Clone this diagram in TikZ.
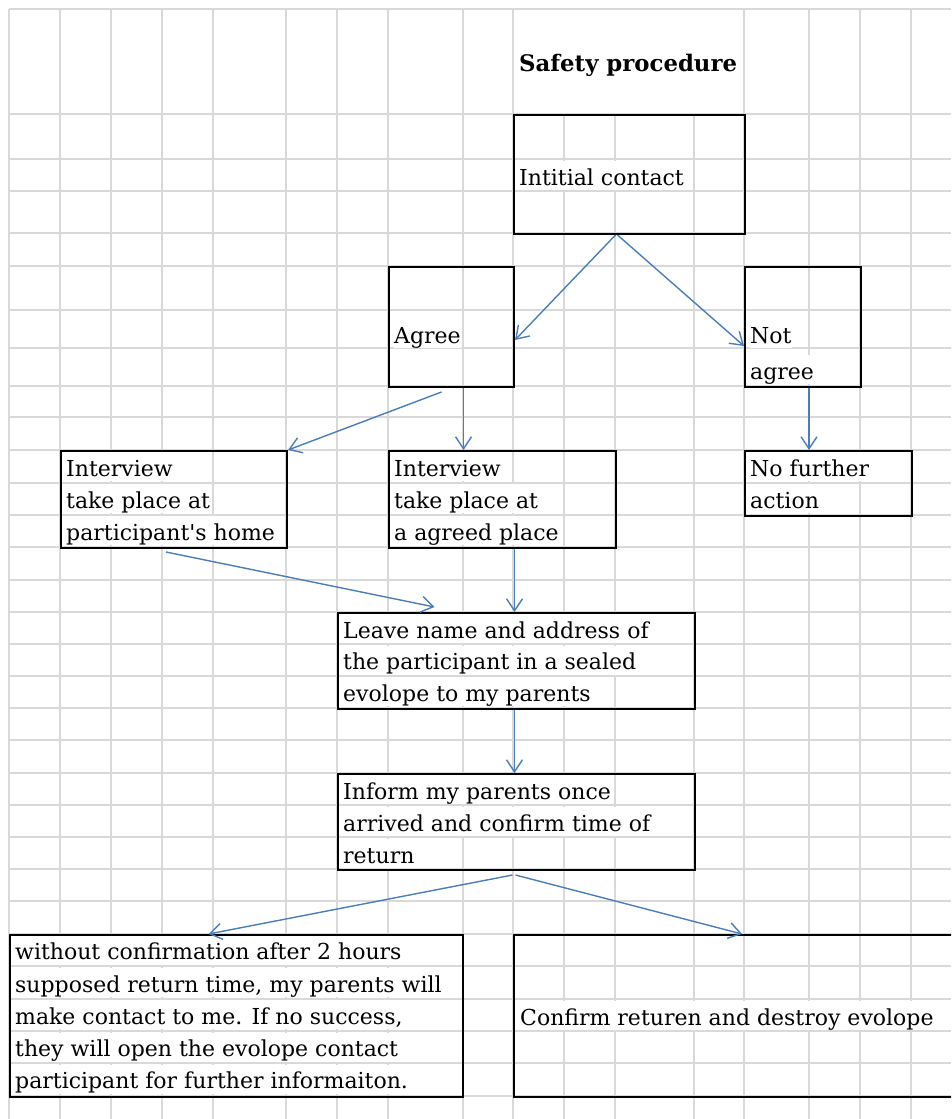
\documentclass[tikz,border=0pt]{standalone}
\usepackage{fontspec}
\setmainfont{DejaVu Serif}
\usetikzlibrary{arrows.meta}
\definecolor{gridgray}{RGB}{217,217,217}
\definecolor{linkblue}{RGB}{74,126,187}

\begin{document}
\begin{tikzpicture}[
  x=1pt, y=-1pt,
  font=\fontsize{22pt}{32pt}\selectfont,
  gridline/.style={draw=gridgray, line width=1.3pt},
  box/.style={rectangle, draw, line width=2pt, anchor=north west, inner sep=0pt},
  txt/.style={anchor=base west, inner sep=0pt, fill=white, text height=24pt, text depth=5pt},
  heading/.style={anchor=base west, inner sep=0pt, fill=white, font=\fontsize{22.8pt}{32pt}\selectfont\bfseries, text height=61pt, text depth=42pt},
  link/.style={draw=linkblue, line width=1.4pt, -{Straight Barb[length=12pt,width=16pt]}}
]
\useasboundingbox (0,0) rectangle (951,1119);
\clip (0,0) rectangle (951,1119);
\fill[white] (0,0) rectangle (951,1119);

% Sheet grid
\foreach \gx in {9,60,111,162,213,286,337,388,463,513,564,615,694,744,809,860,911}
  \draw[gridline] (\gx,9) -- (\gx,1119);
\foreach \gy in {9,114,159,191,233,266,310,348,386,417,450,483,515,547,580,612,644,676,708,740,773,805,837,869,901,934,966,999,1031,1063,1096}
  \draw[gridline] (9,\gy) -- (951,\gy);

% Title
\node[heading] (title) at (519,71) {Safety procedure};

% Cell texts
\node[txt] (contact-t) at (519,185) {Intitial contact};
\node[txt] (agree-t) at (394,343) {Agree};
\node[txt] (notagree-t1) at (750,343) {Not};
\node[txt] (notagree-t2) at (750,379) {agree};
\foreach \line [count=\i] in {Interview, take place at, participant\textquotesingle s home}
  \node[txt] (home-t\i) at (66,444+32*\i) {\line};
\foreach \line [count=\i] in {Interview, take place at, a agreed place}
  \node[txt] (place-t\i) at (394,444+32*\i) {\line};
\node[txt] (nofurther-t1) at (750,476) {No further};
\node[txt] (nofurther-t2) at (750,508) {action};
\foreach \line [count=\i] in {Leave name and address of, the participant in a sealed, evolope to my parents}
  \node[txt] (leave-t\i) at (343,606.5+31.5*\i) {\line};
\foreach \line [count=\i] in {Inform my parents once, arrived and confirm time of, return}
  \node[txt] (inform-t\i) at (343,767+32*\i) {\line};
\foreach \line [count=\i] in {without confirmation after 2 hours, {supposed return time, my parents will}, {make contact to me. If no success,}, they will open the evolope contact, participant for further informaiton.}
  \node[txt] (nocall-t\i) at (15,927.5+32.25*\i) {\line};
\node[txt] (confirm-t) at (520,1025) {Confirm returen and destroy evolope};

% Boxes
\node[box, minimum width=231pt, minimum height=119pt] (contact) at (513,114) {};
\node[box, minimum width=125pt, minimum height=120pt] (agree) at (388,266) {};
\node[box, minimum width=116pt, minimum height=120pt] (notagree) at (744,266) {};
\node[box, minimum width=226pt, minimum height=97pt] (home) at (60,450) {};
\node[box, minimum width=227pt, minimum height=97pt] (place) at (388,450) {};
\node[box, minimum width=167pt, minimum height=65pt] (nofurther) at (744,450) {};
\node[box, minimum width=357pt, minimum height=96pt] (leave) at (337,612) {};
\node[box, minimum width=357pt, minimum height=96pt] (inform) at (337,773) {};
\node[box, minimum width=453pt, minimum height=162pt] (nocall) at (9,934) {};
\node[box, minimum width=450pt, minimum height=162pt] (confirm) at (513,934) {};

% Arrows
\draw[link] ([xshift=-14pt]contact.south) -- ([yshift=-13pt]agree.east);
\draw[link] ([xshift=-12pt]contact.south) -- ([yshift=-19pt]notagree.west);
\draw[link] ([xshift=-10pt,yshift=-4pt]agree.south) -- (home.north east);
\draw[link] ([xshift=12pt]agree.south) -- ([xshift=12pt]agree.south |- place.north);
\draw[link] ([xshift=6pt]notagree.south) -- ([xshift=6pt]notagree.south |- nofurther.north);
\draw[link] ([xshift=-8pt,yshift=-3pt]home.south) -- ([xshift=-82pt,yshift=5pt]leave.north);
\draw[link] ([xshift=12pt]place.south) -- ([xshift=12pt]place.south |- leave.north);
\draw[link] ([xshift=-2pt]leave.south) -- ([xshift=-2pt]leave.south |- inform.north);
\draw[link] ([xshift=-4pt,yshift=-4pt]inform.south) -- ([xshift=-28pt]nocall.north);
\draw[link] ([xshift=-1pt,yshift=-4pt]inform.south) -- ([xshift=229pt]confirm.north west);

\end{tikzpicture}
\end{document}
